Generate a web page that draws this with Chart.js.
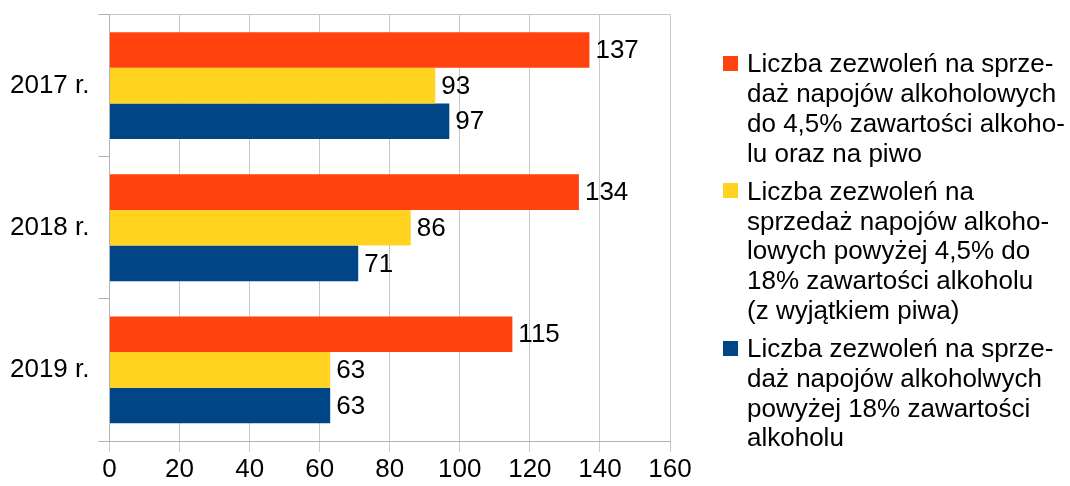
<!DOCTYPE html>
<html lang="pl">
<head>
<meta charset="utf-8">
<script src="https://cdn.jsdelivr.net/npm/chart.js@4/dist/chart.umd.min.js"></script>
<style>
  html, body { margin: 0; padding: 0; background: #fff; }
  #wrap { position: relative; width: 1070px; height: 486px; overflow: hidden; }
  #legend { position: absolute; left: 723px; top: 0; font-family: "Liberation Sans", Arial, sans-serif; font-size: 26px; line-height: 29.8px; color: #000; }
  .item { position: absolute; left: 0; white-space: nowrap; }
  .box { position: absolute; left: 0; width: 15px; height: 15px; }
  .txt { position: absolute; left: 24px; top: 0; }
</style>
</head>
<body>
<div id="wrap">
  <canvas id="chart" width="1070" height="486"></canvas>
  <div id="legend"></div>
</div>
<script>
// dane z wykresu
const years = ["2017 r.", "2018 r.", "2019 r."];
const do45 = [137, 134, 115];        // do 4,5% oraz piwo
const od45do18 = [93, 86, 63];       // powyżej 4,5% do 18%
const pow18 = [97, 71, 63];          // powyżej 18%
const xTicks = [0, 20, 40, 60, 80, 100, 120, 140, 160];

const seriesNames = [
  ["Liczba zezwoleń na sprze-", "daż napojów alkoholowych", "do 4,5% zawartości alkoho-", "lu oraz na piwo"],
  ["Liczba zezwoleń na", "sprzedaż napojów alkoho-", "lowych powyżej 4,5% do", "18% zawartości alkoholu", "(z wyjątkiem piwa)"],
  ["Liczba zezwoleń na sprze-", "daż napojów alkoholwych", "powyżej 18% zawartości", "alkoholu"]
];
const colors = ["#FF420E", "#FFD320", "#004586"];

const FONT = "Liberation Sans";

// etykiety wartości przy słupkach
const valueLabels = {
  id: "valueLabels",
  afterDatasetsDraw(chart) {
    const ctx = chart.ctx;
    ctx.save();
    ctx.font = "26px '" + FONT + "'";
    ctx.fillStyle = "#000";
    ctx.textAlign = "left";
    ctx.textBaseline = "middle";
    chart.data.datasets.forEach((ds, i) => {
      const meta = chart.getDatasetMeta(i);
      meta.data.forEach((bar, j) => {
        ctx.fillText(String(ds.data[j]), bar.x + 6, bar.y + 1);
      });
    });
    ctx.restore();
  }
};

const ctx = document.getElementById("chart").getContext("2d");
const chart = new Chart(ctx, {
  type: "bar",
  data: {
    labels: years,
    datasets: [
      { label: seriesNames[0].join(" "), data: do45, backgroundColor: colors[0] },
      { label: seriesNames[1].join(" "), data: od45do18, backgroundColor: colors[1] },
      { label: seriesNames[2].join(" "), data: pow18, backgroundColor: colors[2] }
    ]
  },
  options: {
    indexAxis: "y",
    responsive: false,
    animation: false,
    devicePixelRatio: 1,
    categoryPercentage: 0.752,
    barPercentage: 1,
    layout: { padding: { top: 14.5, right: 400, bottom: 0, left: 0 } },
    plugins: {
      legend: { display: false },
      tooltip: { enabled: false }
    },
    scales: {
      x: {
        min: 0,
        max: 160,
        afterBuildTicks: s => { s.ticks = xTicks.map(v => ({ value: v })); },
        afterFit: s => { s.height = 45; s.paddingLeft = 0; s.paddingRight = 0; },
        grid: { color: "#c8c8c8", tickColor: "#c8c8c8", tickLength: 11, drawTicks: true },
        border: { color: "#b3b3b3" },
        ticks: { color: "#000", padding: 2, font: { family: FONT, size: 26 } }
      },
      y: {
        afterFit: s => { s.width = 109.5; s.paddingTop = 0; s.paddingBottom = 0; },
        grid: {
          offset: true,
          color: c => (c.index === 0 ? "#c8c8c8" : "rgba(0,0,0,0)"),
          tickColor: "#b3b3b3",
          tickLength: 11
        },
        border: { color: "#b3b3b3" },
        ticks: { color: "#000", padding: 9, font: { family: FONT, size: 26 } }
      }
    }
  },
  plugins: [valueLabels]
});

// legenda po prawej
const legendTops = [49.4, 176.8, 334.1];
const legend = document.getElementById("legend");
seriesNames.forEach((lines, i) => {
  const item = document.createElement("div");
  item.className = "item";
  item.style.top = legendTops[i] + "px";
  const box = document.createElement("div");
  box.className = "box";
  box.style.background = colors[i];
  box.style.top = "6.5px";
  const txt = document.createElement("div");
  txt.className = "txt";
  txt.innerHTML = lines.join("<br>");
  item.appendChild(box);
  item.appendChild(txt);
  legend.appendChild(item);
});
</script>
</body>
</html>
